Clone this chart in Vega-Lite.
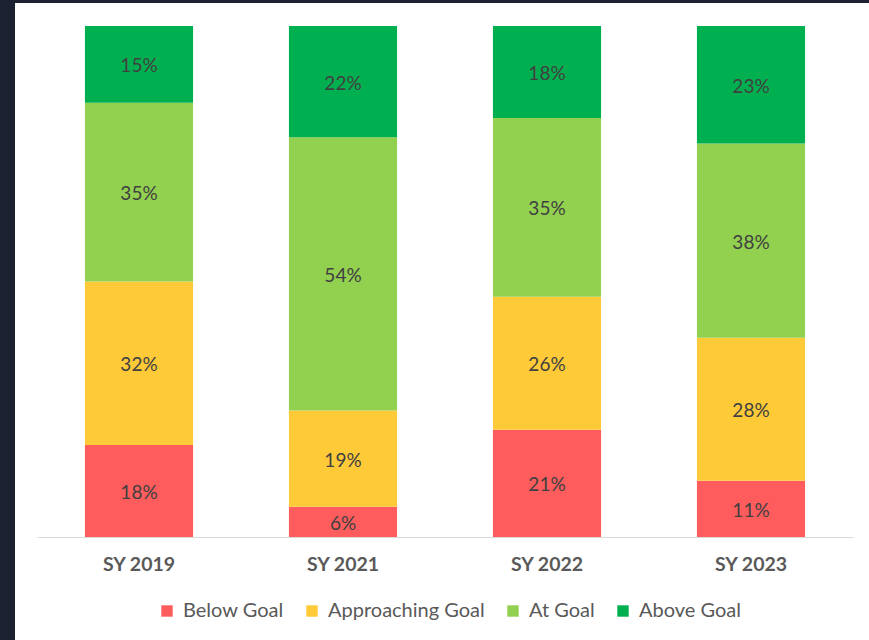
{
  "$schema": "https://vega.github.io/schema/vega-lite/v6.json",
  "width": 854,
  "height": 637,
  "autosize": {"type": "none"},
  "padding": {"left": 15, "top": 3, "right": 0, "bottom": 0},
  "background": "#1b2130",
  "view": {"fill": "white", "stroke": null},
  "config": {"font": "Lato"},
  "data": {
    "values": [
      {"year": "SY 2019", "level": "Below Goal", "pct": 0.18},
      {"year": "SY 2019", "level": "Approaching Goal", "pct": 0.32},
      {"year": "SY 2019", "level": "At Goal", "pct": 0.35},
      {"year": "SY 2019", "level": "Above Goal", "pct": 0.15},
      {"year": "SY 2021", "level": "Below Goal", "pct": 0.06},
      {"year": "SY 2021", "level": "Approaching Goal", "pct": 0.19},
      {"year": "SY 2021", "level": "At Goal", "pct": 0.54},
      {"year": "SY 2021", "level": "Above Goal", "pct": 0.22},
      {"year": "SY 2022", "level": "Below Goal", "pct": 0.21},
      {"year": "SY 2022", "level": "Approaching Goal", "pct": 0.26},
      {"year": "SY 2022", "level": "At Goal", "pct": 0.35},
      {"year": "SY 2022", "level": "Above Goal", "pct": 0.18},
      {"year": "SY 2023", "level": "Below Goal", "pct": 0.11},
      {"year": "SY 2023", "level": "Approaching Goal", "pct": 0.28},
      {"year": "SY 2023", "level": "At Goal", "pct": 0.38},
      {"year": "SY 2023", "level": "Above Goal", "pct": 0.23}
    ]
  },
  "transform": [
    {"calculate": "indexof(['Below Goal','Approaching Goal','At Goal','Above Goal'], datum.level)", "as": "rank"},
    {"stack": "pct", "groupby": ["year"], "sort": [{"field": "rank", "order": "ascending"}], "offset": "normalize", "as": ["y0", "y1"]},
    {"calculate": "(datum.y0 + datum.y1) / 2", "as": "ymid"}
  ],
  "encoding": {
    "x": {
      "field": "year",
      "type": "nominal",
      "scale": {"range": [22, 838], "paddingInner": 0.47, "paddingOuter": 0.235},
      "axis": {
        "title": null,
        "labelAngle": 0,
        "offset": -103,
        "ticks": false,
        "domainColor": "#d9d9d9",
        "domainWidth": 1,
        "labelPadding": 18,
        "labelFontSize": 19.5,
        "labelFontWeight": "bold",
        "labelColor": "#595959",
        "grid": false
      }
    }
  },
  "layer": [
    {
      "mark": {"type": "bar"},
      "encoding": {
        "y": {"field": "y0", "type": "quantitative", "scale": {"domain": [0, 1], "range": [534, 23]}, "axis": null},
        "y2": {"field": "y1"},
        "color": {
          "field": "level",
          "type": "nominal",
          "scale": {
            "domain": ["Below Goal", "Approaching Goal", "At Goal", "Above Goal"],
            "range": ["#ff5d5d", "#ffca38", "#92d050", "#00b050"]
          },
          "legend": {
            "title": null,
            "orient": "none",
            "legendX": 142,
            "legendY": 598,
            "direction": "horizontal",
            "symbolType": "square",
            "symbolSize": 130,
            "symbolStrokeWidth": 0,
            "labelFontSize": 20,
            "labelColor": "#595959",
            "columnPadding": 18,
            "labelOffset": 6
          }
        }
      }
    },
    {
      "mark": {"type": "text", "fontSize": 19, "color": "#404040", "dy": 2},
      "encoding": {
        "y": {"field": "ymid", "type": "quantitative"},
        "text": {"field": "pct", "type": "quantitative", "format": ".0%"}
      }
    }
  ]
}
